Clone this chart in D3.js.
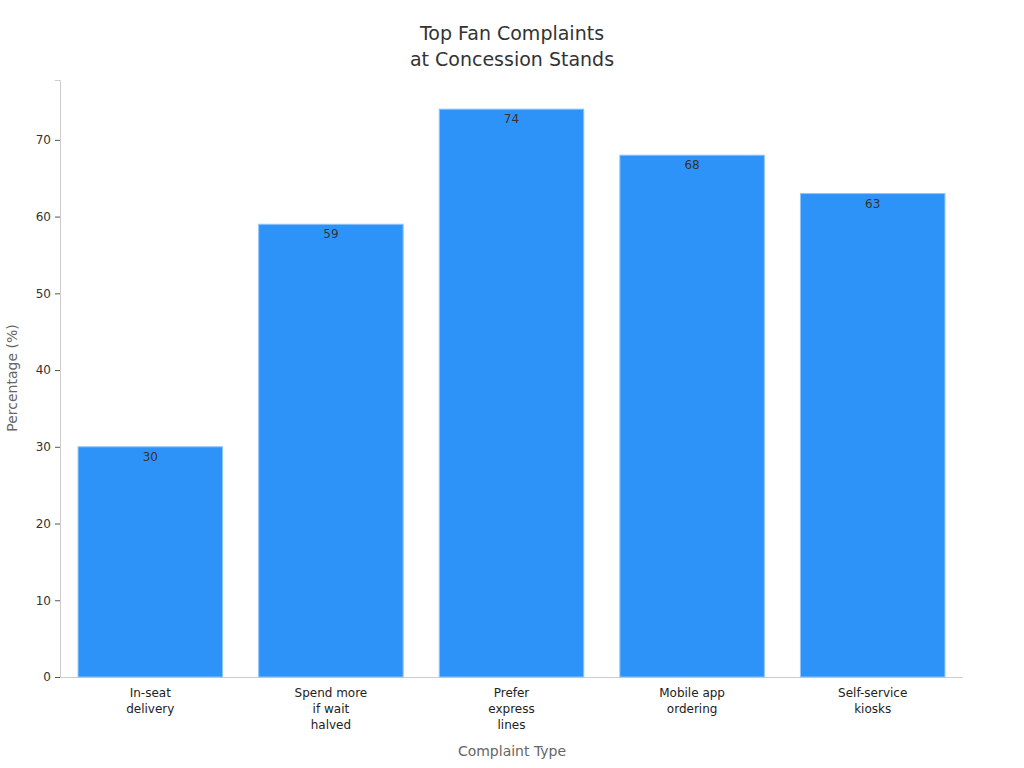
<!DOCTYPE html>
<html><head><meta charset="utf-8">
<script src="https://cdn.jsdelivr.net/npm/d3@7"></script>
<style>body{margin:0;background:#fff;font-family:"DejaVu Sans",sans-serif;}</style>
</head><body>
<svg id="c" width="1024" height="768"></svg>
<script>
const categories = [["In-seat","delivery"],["Spend more","if wait","halved"],["Prefer","express","lines"],["Mobile app","ordering"],["Self-service","kiosks"]];
const values = [30, 59, 74, 68, 63];
const yTicks = [0,10,20,30,40,50,60,70];
const title = ["Top Fan Complaints","at Concession Stands"];

const svg = d3.select("#c");
const m = {l:60, r:963, t:80, b:677};
const keys = categories.map((c,i)=>i);
const x = d3.scaleBand().domain(keys).range([m.l,m.r]).paddingInner(0.2).paddingOuter(0.1);
const y = d3.scaleLinear().domain([0,77.8]).range([m.b,m.t]);

svg.append("text").attr("x",512).attr("text-anchor","middle").attr("font-size",19).attr("fill","#333")
  .selectAll("tspan").data(title).join("tspan").attr("x",512).attr("y",(d,i)=>40+i*26).text(d=>d);

const ya = svg.append("g").attr("transform",`translate(${m.l},0)`).call(d3.axisLeft(y).tickValues(yTicks).tickSize(5).tickPadding(4));
ya.select(".domain").attr("stroke","#ccc");
ya.selectAll(".tick line").attr("stroke","#555");
ya.selectAll("text").attr("font-size",12).attr("fill","#333").attr("font-family","DejaVu Sans");

svg.append("line").attr("x1",m.l).attr("x2",m.r).attr("y1",m.b+0.5).attr("y2",m.b+0.5).attr("stroke","#ccc");

svg.selectAll("rect.bar").data(values).join("rect").attr("class","bar")
  .attr("x",(d,i)=>x(i)).attr("width",x.bandwidth())
  .attr("y",d=>y(d)).attr("height",d=>y(0)-y(d))
  .attr("fill","#2e93f9").attr("stroke","#8cc4fb").attr("stroke-width",1);

svg.selectAll("text.val").data(values).join("text").attr("class","val")
  .attr("x",(d,i)=>x(i)+x.bandwidth()/2).attr("y",d=>y(d)+14)
  .attr("text-anchor","middle").attr("font-size",12).attr("fill","#333").text(d=>d);

const xl = svg.selectAll("text.cat").data(categories).join("text").attr("class","cat")
  .attr("text-anchor","middle").attr("font-size",12).attr("fill","#222");
xl.selectAll("tspan").data((d,i)=>d.map(s=>({s,i}))).join("tspan")
  .attr("x",d=>x(d.i)+x.bandwidth()/2).attr("y",(d,j)=>697+j*16).text(d=>d.s);

svg.append("text").attr("x",512).attr("y",756).attr("text-anchor","middle").attr("font-size",14).attr("fill","#666").text("Complaint Type");
svg.append("text").attr("transform","translate(17,378) rotate(-90)").attr("text-anchor","middle").attr("font-size",14).attr("fill","#666").text("Percentage (%)");
</script>
</body></html>
